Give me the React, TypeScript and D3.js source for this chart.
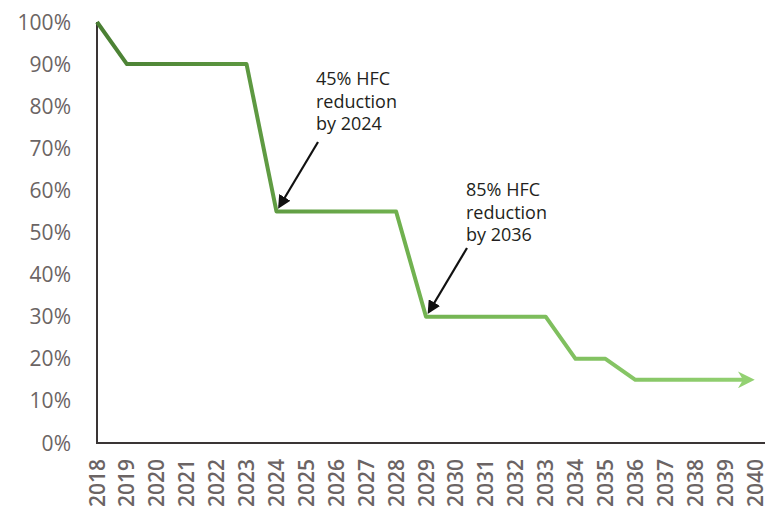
import React from 'react';
import * as d3 from 'd3';

const years = d3.range(2018, 2041);
const stepYears = [2018, 2019, 2023, 2024, 2028, 2029, 2033, 2034, 2035, 2036, 2040];
const stepValues = [100, 90, 90, 55, 55, 30, 30, 20, 20, 15, 15];
const yTicks = [0, 10, 20, 30, 40, 50, 60, 70, 80, 90, 100];

const notes = [
  { lines: ['45% HFC', 'reduction', 'by 2024'], tx: 316, ty: 85, from: [318, 142], year: 2024, value: 55 },
  { lines: ['85% HFC', 'reduction', 'by 2036'], tx: 466, ty: 196, from: [467, 248], year: 2029, value: 30 },
];

const W = 765;
const H = 514;
const font = '"Open Sans", sans-serif';

const App = () => {
  const x = d3.scaleLinear().domain([2018, 2040]).range([97, 755]);
  const y = d3.scaleLinear().domain([0, 100]).range([443, 22]);

  const pts = stepYears.map((yr, i) => [x(yr), y(stepValues[i])] as [number, number]);
  // leave room for the arrowhead so its tip sits on 2040
  pts[pts.length - 1][0] -= 12;
  const line = d3.line();

  return (
    <svg width={W} height={H} style={{ position: 'absolute', left: 0, top: 0, background: '#fff' }}>
      <defs>
        <linearGradient id="lg" gradientUnits="userSpaceOnUse" x1={x(2018)} x2={x(2040)} y1={0} y2={0}>
          <stop offset="0" stopColor="#4a7f33" />
          <stop offset="0.45" stopColor="#6fb04e" />
          <stop offset="1" stopColor="#93d172" />
        </linearGradient>
        <marker id="endArrow" viewBox="0 0 10 10" refX="3" refY="5" markerWidth="4.2" markerHeight="4.2" orient="auto" markerUnits="strokeWidth">
          <path d="M0,0 L10,5 L0,10 L3,5 Z" fill="#93d172" />
        </marker>
        <marker id="blk" viewBox="0 0 10 10" refX="8" refY="5" markerWidth="6" markerHeight="6" orient="auto" markerUnits="strokeWidth">
          <path d="M0,0 L10,5 L0,10 Z" fill="#111" />
        </marker>
      </defs>

      {/* axes, no ticks */}
      <line x1={x(2018)} x2={x(2018)} y1={y(100)} y2={y(0)} stroke="#3a3535" strokeWidth={2} />
      <line x1={x(2018) - 1} x2={W} y1={y(0)} y2={y(0)} stroke="#3a3535" strokeWidth={2} />

      {yTicks.map((t) => (
        <text key={t} x={71} y={y(t)} dy="0.36em" textAnchor="end" fontFamily={font} fontSize={21} fontWeight={500} fill="#6b6464">
          {t}%
        </text>
      ))}

      {years.map((yr) => (
        <text key={yr} transform={`translate(${x(yr)},${459}) rotate(-90)`} dy="0.36em" textAnchor="end" fontFamily={font} fontSize={21} fontWeight={600} fill="#6b6464">
          {yr}
        </text>
      ))}

      <path d={line(pts) || ''} fill="none" stroke="url(#lg)" strokeWidth={4} strokeLinejoin="round" markerEnd="url(#endArrow)" />

      {notes.map((n, i) => (
        <g key={i}>
          {n.lines.map((l, j) => (
            <text key={j} x={n.tx} y={n.ty + j * 22.5} fontFamily={font} fontSize={18} fill="#231f20">
              {l}
            </text>
          ))}
          <line x1={n.from[0]} y1={n.from[1]} x2={x(n.year) + 3} y2={y(n.value) - 5} stroke="#111" strokeWidth={2.2} markerEnd="url(#blk)" />
        </g>
      ))}
    </svg>
  );
};

export default App;
